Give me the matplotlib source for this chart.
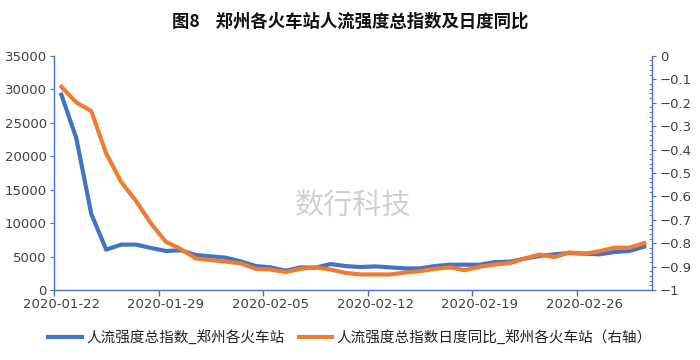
import matplotlib
matplotlib.use("Agg")
import matplotlib.pyplot as plt
from matplotlib.ticker import MultipleLocator, FixedLocator, FuncFormatter
import numpy as np
import pandas as pd

plt.rcParams['font.family'] = ['Noto Sans CJK SC', 'DejaVu Sans']
plt.rcParams['axes.unicode_minus'] = True

dates = pd.date_range("2020-01-22", "2020-03-01", freq="D")
tick_labels = ["2020-01-22", "2020-01-29", "2020-02-05", "2020-02-12", "2020-02-19", "2020-02-26"]

# 人流强度总指数 (left axis)
index_vals = [29200, 22700, 11400, 6050, 6800, 6800, 6300, 5850, 5950, 5250,
              5050, 4850, 4300, 3600, 3400, 2900, 3400, 3350, 3900, 3600,
              3450, 3550, 3400, 3250, 3250, 3600, 3800, 3800, 3800, 4200,
              4250, 4700, 5100, 5350, 5550, 5450, 5350, 5700, 5850, 6500]
# 日度同比 (right axis)
yoy_vals = [-0.132, -0.199, -0.236, -0.417, -0.538, -0.620, -0.716, -0.794, -0.825, -0.865,
            -0.872, -0.878, -0.886, -0.909, -0.912, -0.923, -0.909, -0.903, -0.912, -0.926,
            -0.933, -0.933, -0.933, -0.925, -0.919, -0.909, -0.903, -0.915, -0.900, -0.891,
            -0.885, -0.865, -0.848, -0.859, -0.839, -0.845, -0.834, -0.819, -0.819, -0.799]

blue = "#4472C4"
orange = "#ED7D31"
txt = "#404040"
num_font = ["DejaVu Sans"]

fig = plt.figure(figsize=(7, 3.6), dpi=100)
ax = fig.add_axes([0.077, 0.194, 0.854, 0.651])
ax2 = ax.twinx()

x = np.arange(len(dates))
l1, = ax.plot(x, index_vals, color=blue, lw=3, solid_joinstyle="round", zorder=3)
l2, = ax2.plot(x, yoy_vals, color=orange, lw=3, solid_joinstyle="round", zorder=3)

ax.set_xlim(-0.5, len(dates) - 0.5)
ax.set_ylim(0, 35000)
ax2.set_ylim(-1, 0)

# x axis: labels at weekly dates, tick marks at category boundaries
label_pos = [list(dates.strftime("%Y-%m-%d")).index(t) for t in tick_labels]
ax.xaxis.set_major_locator(FixedLocator(label_pos))
ax.set_xticklabels(tick_labels)
ax.xaxis.set_minor_locator(FixedLocator(np.arange(-0.5, len(dates), 7)))
ax.tick_params(axis="x", which="major", length=0, pad=6, labelsize=9.5, labelcolor=txt)
ax.tick_params(axis="x", which="minor", length=4, color=blue, width=1)

ax.yaxis.set_major_locator(MultipleLocator(5000))
ax.tick_params(axis="y", length=3, color=blue, labelsize=9.5, labelcolor=txt, pad=2)

ax2.yaxis.set_major_locator(MultipleLocator(0.1))
ax2.yaxis.set_minor_locator(MultipleLocator(0.02))
ax2.yaxis.set_major_formatter(FuncFormatter(lambda v, p: "0" if abs(v) < 1e-9 else
                                            ("−1" if abs(v + 1) < 1e-9 else "−%.1f" % abs(v))))
ax2.tick_params(axis="y", which="major", length=3, color=blue, labelsize=9.5, labelcolor=txt, pad=3)
ax2.tick_params(axis="y", which="minor", direction="in", length=2, color=blue)

for lab in ax.get_xticklabels() + ax.get_yticklabels() + ax2.get_yticklabels():
    lab.set_family(num_font)

for a in (ax, ax2):
    a.spines["top"].set_visible(False)
    for s in ("left", "bottom", "right"):
        a.spines[s].set_color(blue)
        a.spines[s].set_linewidth(1)
ax2.spines["left"].set_visible(False)
ax2.spines["bottom"].set_visible(False)
ax.spines["right"].set_visible(False)

fig.text(0.5, 0.94, "图8    郑州各火车站人流强度总指数及日度同比", ha="center", va="center",
         fontsize=12.5, fontweight="bold", color="#111111")

ax.text(0.5, 0.36, "数行科技", transform=ax.transAxes, ha="center", va="center",
        fontsize=21, color="#d0d0d0", zorder=1)

fig.legend([l1, l2], ["人流强度总指数_郑州各火车站", "人流强度总指数日度同比_郑州各火车站（右轴）"],
           loc="center", bbox_to_anchor=(0.5, 0.062), ncol=2, frameon=False,
           fontsize=10.5, handlelength=2.3, columnspacing=1.0, handletextpad=0.3,
           labelcolor="#222222")

fig.savefig("out.png", dpi=100)
